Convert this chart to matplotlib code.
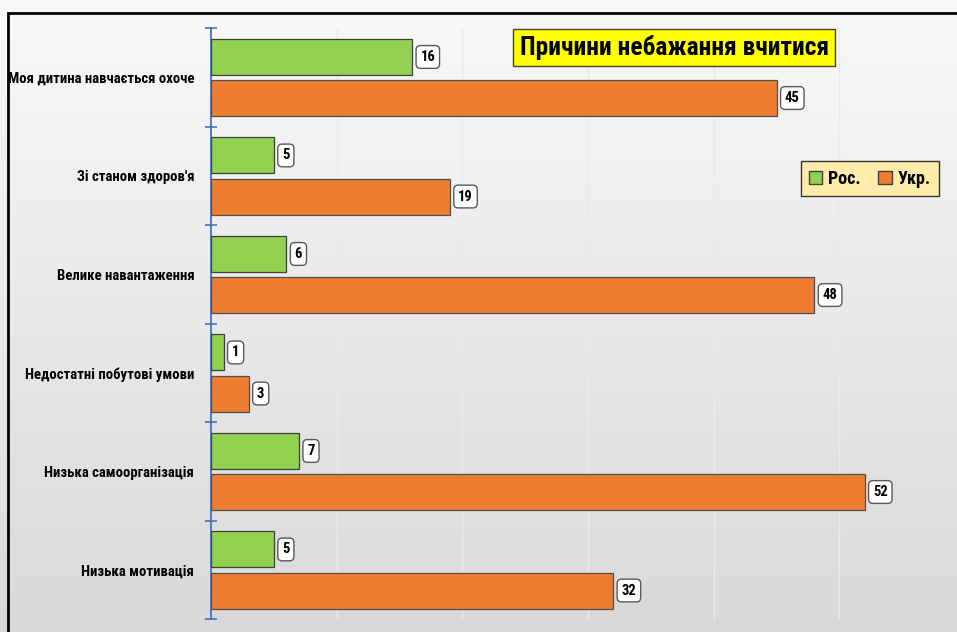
import numpy as np
import matplotlib
matplotlib.use('Agg')
import matplotlib.pyplot as plt
import matplotlib.font_manager as fm
from matplotlib.patches import Rectangle

categories = ['Моя дитина навчається охоче', "Зі станом здоров'я", 'Велике навантаження',
              'Недостатні побутові умови', 'Низька самоорганізація', 'Низька мотивація']
ros = [16, 5, 6, 1, 7, 5]
ukr = [45, 19, 48, 3, 52, 32]
series_names = ['Рос.', 'Укр.']
title = 'Причини небажання вчитися'

# pick a condensed font if one is around
names = {f.name for f in fm.fontManager.ttflist}
fam = 'DejaVu Sans'
for cand in ['Roboto Condensed', 'Liberation Sans Narrow', 'Open Sans Condensed']:
    if cand in names:
        fam = cand
        break
plt.rcParams['font.family'] = [fam, 'DejaVu Sans']
plt.rcParams['font.stretch'] = 'condensed'
plt.rcParams['font.weight'] = 'bold'

fig = plt.figure(figsize=(9.57, 6.32), dpi=100)

# gradient background
bg = fig.add_axes([0, 0, 1, 1], zorder=-10)
grad = np.linspace(0, 1, 256).reshape(-1, 1)
cmap = matplotlib.colors.LinearSegmentedColormap.from_list('bg', ['#f9f9f9', '#d9d9d9'])
bg.imshow(grad, aspect='auto', cmap=cmap, extent=[0, 1, 0, 1], origin='upper')
bg.axis('off')

# outer border (cropped at right and bottom)
fig.add_artist(Rectangle((8 / 957, -0.1), 1.2, 1.1 - 13 / 632, transform=fig.transFigure,
                         fill=False, edgecolor='black', linewidth=2.0))

ax = fig.add_axes([211 / 957, 1 - 619 / 632, 729 / 957, 591 / 632])
ax.patch.set_alpha(0)

n = len(categories)
idx = np.arange(n)
h = 0.365
ax.barh(idx + 0.294, ros, height=h, color='#92D050', edgecolor='#404040', linewidth=0.9, zorder=3)
ax.barh(idx + 0.711, ukr, height=h, color='#ED7D31', edgecolor='#505050', linewidth=0.9, zorder=3)

for vals, off in [(ros, 0.294), (ukr, 0.711)]:
    for i, v in enumerate(vals):
        ax.annotate(str(v), (v, i + off), xytext=(6, 0), textcoords='offset points',
                    ha='left', va='center', fontsize=10.5, zorder=5,
                    bbox=dict(boxstyle='round,pad=0.3,rounding_size=0.3', fc='white',
                              ec='#595959', lw=1))

ax.set_xlim(0, 58)
ax.set_ylim(n, 0)
ax.set_xticks([10, 20, 30, 40, 50])
ax.xaxis.grid(True, color='#eaeaea', linewidth=1, zorder=0)
ax.tick_params(axis='x', length=0, labelbottom=False)

ax.set_yticks(np.arange(n + 1))
ax.set_yticklabels([])
ax.set_yticks(idx + 0.5, minor=True)
ax.set_yticklabels(categories, minor=True, fontsize=10.6)
ax.tick_params(axis='y', which='major', direction='inout', length=9, width=1.2, color='#4472C4')
ax.tick_params(axis='y', which='minor', length=0, pad=12)

for s in ['top', 'right', 'bottom']:
    ax.spines[s].set_visible(False)
ax.spines['left'].set_color('#4472C4')
ax.spines['left'].set_linewidth(1.3)

fig.text(0.7045, 1 - 47.5 / 632, title, ha='center', va='center', fontsize=18.4,
         bbox=dict(boxstyle='square,pad=0.25', fc='#FFFF00', ec='#404040', lw=1))

handles = [Rectangle((0, 0), 1, 1, fc='#92D050', ec='#404040', lw=1),
           Rectangle((0, 0), 1, 1, fc='#ED7D31', ec='#404040', lw=1)]
leg = fig.legend(handles, series_names, loc='center', bbox_to_anchor=(0.9086, 1 - 178.5 / 632),
                 ncol=2, fontsize=13, fancybox=False, framealpha=1, handlelength=0.75,
                 handleheight=0.75, handletextpad=0.3, columnspacing=1.0, borderpad=0.45)
leg.get_frame().set_facecolor('#FFEBAA')
leg.get_frame().set_edgecolor('#333333')
leg.get_frame().set_linewidth(1)

fig.savefig('out.png', dpi=100)
